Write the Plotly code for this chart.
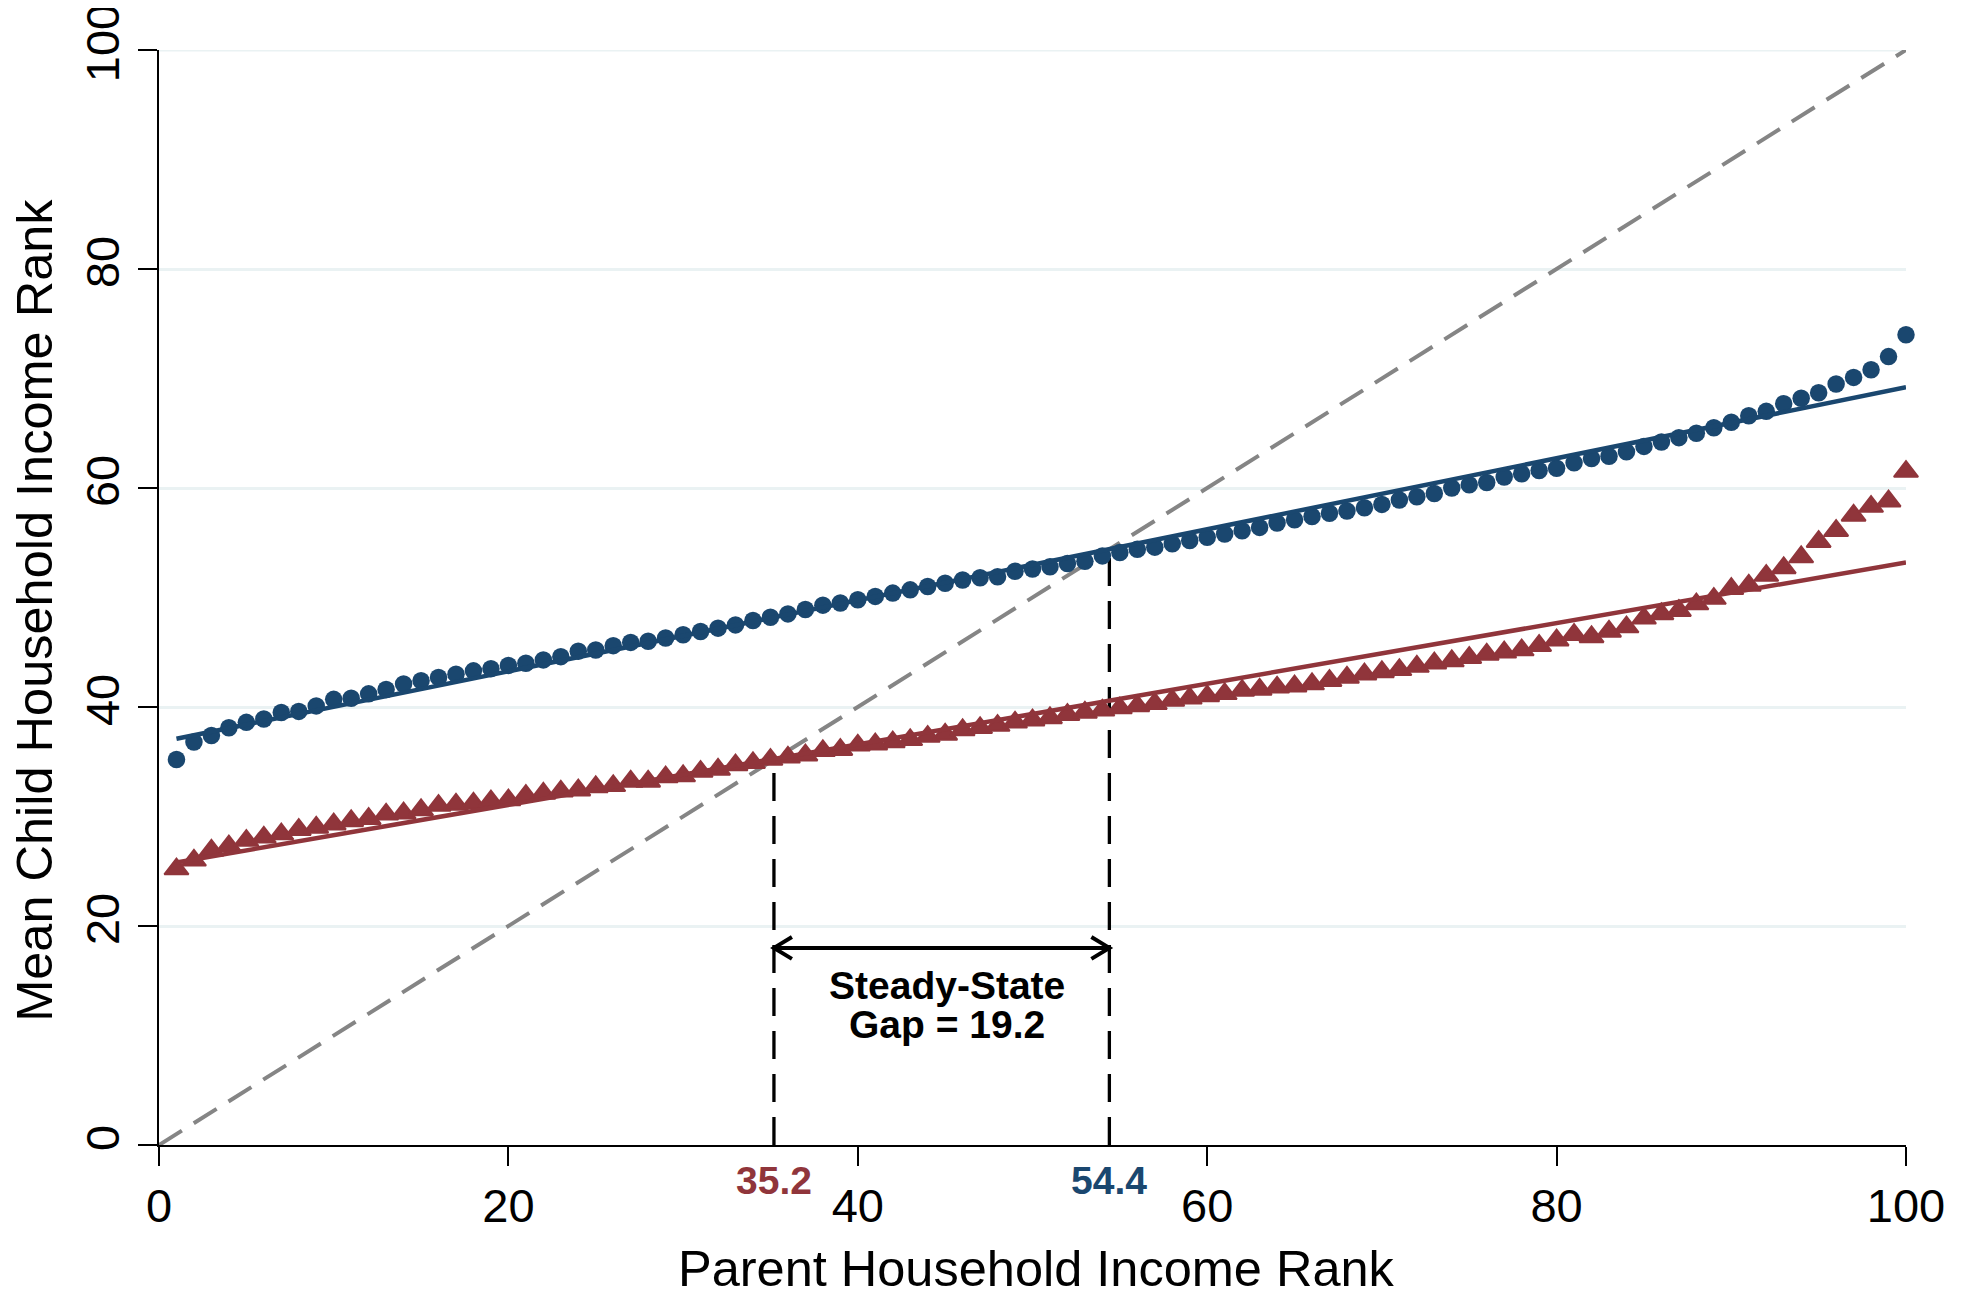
import plotly.graph_objects as go

# ---------------- data ----------------
parent_rank = list(range(1, 101))

blue_child_rank = [
    35.2, 36.8, 37.4, 38.1, 38.6, 38.9, 39.5, 39.6, 40.1, 40.7,
    40.8, 41.2, 41.6, 42.1, 42.4, 42.7, 43.0, 43.3, 43.5, 43.8,
    44.0, 44.3, 44.6, 45.1, 45.2, 45.6, 45.9, 46.0, 46.3, 46.6,
    46.9, 47.2, 47.5, 47.9, 48.2, 48.5, 48.9, 49.3, 49.5, 49.8,
    50.1, 50.4, 50.7, 51.0, 51.3, 51.6, 51.8, 51.9, 52.4, 52.6,
    52.8, 53.1, 53.3, 53.8, 54.1, 54.4, 54.6, 54.9, 55.2, 55.5,
    55.8, 56.1, 56.4, 56.8, 57.1, 57.4, 57.7, 57.9, 58.2, 58.5,
    58.9, 59.2, 59.5, 60.0, 60.3, 60.5, 61.0, 61.3, 61.6, 61.8,
    62.3, 62.7, 62.9, 63.3, 63.8, 64.2, 64.6, 65.0, 65.5, 66.0,
    66.6, 67.0, 67.7, 68.2, 68.7, 69.5, 70.1, 70.8, 72.0, 74.0,
]

red_child_rank = [
    25.2, 26.0, 26.9, 27.3, 27.8, 28.1, 28.4, 28.8, 29.0, 29.3,
    29.6, 29.8, 30.2, 30.3, 30.6, 31.0, 31.1, 31.2, 31.4, 31.5,
    31.9, 32.1, 32.3, 32.4, 32.7, 32.8, 33.2, 33.2, 33.6, 33.7,
    34.1, 34.3, 34.7, 34.9, 35.2, 35.4, 35.6, 36.0, 36.1, 36.5,
    36.6, 36.8, 37.0, 37.3, 37.5, 37.9, 38.1, 38.3, 38.6, 38.8,
    39.0, 39.3, 39.5, 39.7, 39.9, 40.1, 40.3, 40.6, 40.8, 41.0,
    41.2, 41.5, 41.6, 41.8, 41.9, 42.1, 42.4, 42.7, 43.0, 43.2,
    43.4, 43.7, 44.0, 44.2, 44.5, 44.8, 45.0, 45.2, 45.6, 46.1,
    46.6, 46.4, 46.9, 47.3, 48.1, 48.5, 48.8, 49.4, 49.9, 50.8,
    51.1, 52.0, 52.7, 53.7, 55.1, 56.1, 57.5, 58.3, 58.8, 61.5,
]

fit_x = [1, 100]
blue_fit = [37.1, 69.2]
red_fit = [25.8, 53.2]

diag_x = [0, 100]
diag_y = [0, 100]

red_steady = 35.2
blue_steady = 54.4
gap = round(blue_steady - red_steady, 1)
arrow_level = 18.0
gap_label_x = 45.1
gap_label_y = [14.56, 10.98]

x_ticks = [0, 20, 40, 60, 80, 100]
y_ticks = [0, 20, 40, 60, 80, 100]
x_title = "Parent Household Income Rank"
y_title = "Mean Child Household Income Rank"

# ---------------- styles ----------------
NAVY = "#1a476f"
MAROON = "#90353b"
GRID = "#eaf2f3"
GREY = "#858585"
FONT = "Liberation Sans, Arial, sans-serif"
HEAD_DX = 1.03   # arrowhead arm length along x (data units)
HEAD_DY = 1.0    # arrowhead arm half-spread along y (data units)

fig = go.Figure()

# top grid line (plotly drops the grid line lying on the plot edge)
fig.add_shape(type="line", xref="x", yref="y", x0=x_ticks[0], x1=x_ticks[-1],
              y0=y_ticks[-1], y1=y_ticks[-1], layer="below",
              line=dict(color=GRID, width=3))

# 45 degree line
fig.add_trace(go.Scatter(x=diag_x, y=diag_y, mode="lines",
                         line=dict(color=GREY, width=4, dash="27px,14px"),
                         hoverinfo="skip", cliponaxis=False))

# steady-state vertical lines
for ss in (red_steady, blue_steady):
    fig.add_trace(go.Scatter(x=[ss, ss], y=[0, ss], mode="lines",
                             line=dict(color="black", width=3.3, dash="28px,15px"),
                             hoverinfo="skip", cliponaxis=False))

# markers
fig.add_trace(go.Scatter(x=parent_rank, y=blue_child_rank, mode="markers",
                         marker=dict(symbol="circle", size=17.5, color=NAVY, line=dict(width=0)),
                         cliponaxis=False))
fig.add_trace(go.Scatter(x=parent_rank, y=red_child_rank, mode="markers",
                         marker=dict(symbol="triangle-up", size=21, color=MAROON,
                                     line=dict(width=2, color=MAROON)),
                         cliponaxis=False))

# fitted lines
fig.add_trace(go.Scatter(x=fit_x, y=blue_fit, mode="lines",
                         line=dict(color=NAVY, width=4.5), cliponaxis=False))
fig.add_trace(go.Scatter(x=fit_x, y=red_fit, mode="lines",
                         line=dict(color=MAROON, width=4.5), cliponaxis=False))

# double-headed arrow (shaft + open chevron heads)
fig.add_shape(type="line", xref="x", yref="y",
              x0=red_steady, x1=blue_steady, y0=arrow_level, y1=arrow_level,
              line=dict(color="black", width=4))
left_head = (f"M {red_steady + HEAD_DX},{arrow_level + HEAD_DY} "
             f"L {red_steady},{arrow_level} L {red_steady + HEAD_DX},{arrow_level - HEAD_DY}")
right_head = (f"M {blue_steady - HEAD_DX},{arrow_level + HEAD_DY} "
              f"L {blue_steady},{arrow_level} L {blue_steady - HEAD_DX},{arrow_level - HEAD_DY}")
for p in (left_head, right_head):
    fig.add_shape(type="path", xref="x", yref="y", path=p,
                  line=dict(color="black", width=4))

fig.add_annotation(x=gap_label_x, y=gap_label_y[0], xref="x", yref="y",
                   text="<b>Steady-State</b>", showarrow=False,
                   font=dict(family=FONT, size=39, color="black"))
fig.add_annotation(x=gap_label_x, y=gap_label_y[1], xref="x", yref="y",
                   text=f"<b>Gap = {gap:.1f}</b>", showarrow=False,
                   font=dict(family=FONT, size=39, color="black"))

# steady-state value labels under the axis
fig.add_annotation(x=red_steady, y=0, xref="x", yref="paper", yshift=-35.7, yanchor="middle",
                   text=f"<b>{red_steady:.1f}</b>", showarrow=False,
                   font=dict(family=FONT, size=39, color=MAROON))
fig.add_annotation(x=blue_steady, y=0, xref="x", yref="paper", yshift=-35.7, yanchor="middle",
                   text=f"<b>{blue_steady:.1f}</b>", showarrow=False,
                   font=dict(family=FONT, size=39, color=NAVY))

# axis titles
fig.add_annotation(x=0.5, y=0, xref="paper", yref="paper", xshift=4, yshift=-123.7,
                   xanchor="center", yanchor="middle", text=x_title, showarrow=False,
                   font=dict(family=FONT, size=50.5, color="black"))
fig.add_annotation(x=0, y=0.4878, xref="paper", yref="paper", xshift=-124,
                   xanchor="center", yanchor="middle", text=y_title, textangle=-90,
                   showarrow=False, font=dict(family=FONT, size=50.5, color="black"))

fig.update_layout(
    width=1961, height=1288,
    margin=dict(l=151, r=63, t=42, b=151, autoexpand=False),
    paper_bgcolor="white", plot_bgcolor="white",
    showlegend=False,
    font=dict(family=FONT, size=47, color="black"),
    xaxis=dict(range=[0, 100], tickvals=x_ticks, ticktext=[str(v) for v in x_ticks],
               showline=True, linecolor="black", linewidth=2,
               ticks="outside", ticklen=19, tickwidth=2, tickcolor="black",
               showgrid=False, zeroline=False, ticklabeloverflow="allow",
               tickfont=dict(family=FONT, size=47)),
    yaxis=dict(range=[0, 100], tickvals=y_ticks, ticktext=[str(v) for v in y_ticks],
               showline=True, linecolor="black", linewidth=2,
               ticks="outside", ticklen=19, tickwidth=2, tickcolor="black",
               showgrid=True, gridcolor=GRID, gridwidth=3, zeroline=False,
               tickangle=-90, ticklabeloverflow="allow",
               tickfont=dict(family=FONT, size=47)),
)

fig.write_html("out.html")
